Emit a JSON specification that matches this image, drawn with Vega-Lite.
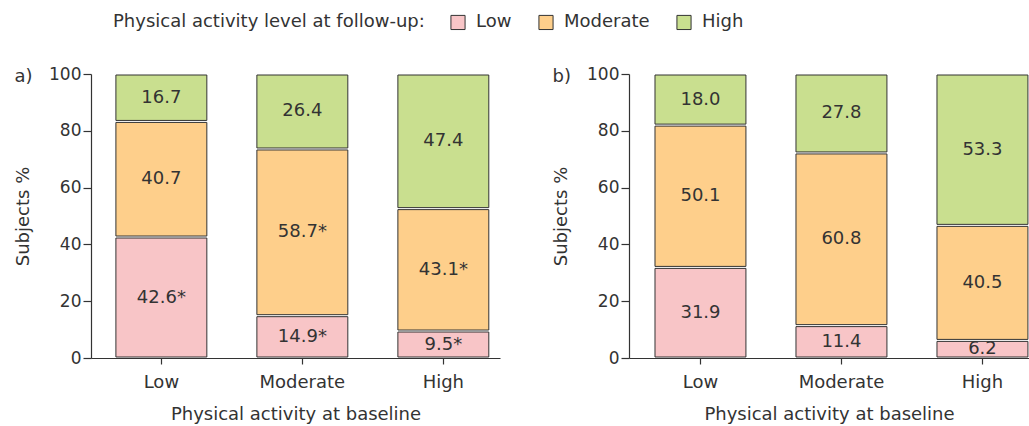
{
  "$schema": "https://vega.github.io/schema/vega-lite/v6.json",
  "padding": {"left": 14, "top": 13, "right": 0, "bottom": 4},
  "background": "white",
  "config": {
    "view": {"stroke": null},
    "font": "DejaVu Sans",
    "axis": {
      "domainColor": "#333", "tickColor": "#333", "labelColor": "#333", "titleColor": "#333",
      "labelFontSize": 17, "titleFontSize": 18, "titleFontWeight": "normal", "grid": false,
      "domainWidth": 1.2, "tickWidth": 1.2
    },
    "title": {"fontSize": 18, "fontWeight": "normal", "color": "#333"},
    "legend": {
      "orient": "none", "legendX": 22, "legendY": -61, "direction": "horizontal",
      "titleOrient": "left", "titleFontSize": 18, "titleFontWeight": "normal", "titleColor": "#333",
      "titleLimit": 600, "labelLimit": 300,
      "labelFontSize": 18, "labelColor": "#333", "symbolType": "square", "symbolSize": 200,
      "symbolStrokeColor": "#333", "symbolStrokeWidth": 1, "columnPadding": 24, "labelOffset": 9,
      "titlePadding": 24, "symbolOpacity": 1
    }
  },
  "datasets": {
    "a": [
      {"baseline": "Low", "followup": "Low", "order": 1, "pct": 42.6, "label": "42.6*"},
      {"baseline": "Low", "followup": "Moderate", "order": 2, "pct": 40.7, "label": "40.7"},
      {"baseline": "Low", "followup": "High", "order": 3, "pct": 16.7, "label": "16.7"},
      {"baseline": "Moderate", "followup": "Low", "order": 1, "pct": 14.9, "label": "14.9*"},
      {"baseline": "Moderate", "followup": "Moderate", "order": 2, "pct": 58.7, "label": "58.7*"},
      {"baseline": "Moderate", "followup": "High", "order": 3, "pct": 26.4, "label": "26.4"},
      {"baseline": "High", "followup": "Low", "order": 1, "pct": 9.5, "label": "9.5*"},
      {"baseline": "High", "followup": "Moderate", "order": 2, "pct": 43.1, "label": "43.1*"},
      {"baseline": "High", "followup": "High", "order": 3, "pct": 47.4, "label": "47.4"}
    ],
    "b": [
      {"baseline": "Low", "followup": "Low", "order": 1, "pct": 31.9, "label": "31.9"},
      {"baseline": "Low", "followup": "Moderate", "order": 2, "pct": 50.1, "label": "50.1"},
      {"baseline": "Low", "followup": "High", "order": 3, "pct": 18.0, "label": "18.0"},
      {"baseline": "Moderate", "followup": "Low", "order": 1, "pct": 11.4, "label": "11.4"},
      {"baseline": "Moderate", "followup": "Moderate", "order": 2, "pct": 60.8, "label": "60.8"},
      {"baseline": "Moderate", "followup": "High", "order": 3, "pct": 27.8, "label": "27.8"},
      {"baseline": "High", "followup": "Low", "order": 1, "pct": 6.2, "label": "6.2"},
      {"baseline": "High", "followup": "Moderate", "order": 2, "pct": 40.5, "label": "40.5"},
      {"baseline": "High", "followup": "High", "order": 3, "pct": 53.3, "label": "53.3"}
    ]
  },
  "spacing": 52,
  "hconcat": [
    {
      "width": 409, "height": 284,
      "title": {"text": "a)", "anchor": "start", "frame": "bounds", "orient": "top", "dy": 25, "dx": 0},
      "data": {"name": "a"},
      "transform": [
        {"stack": "pct", "groupby": ["baseline"], "sort": [{"field": "order"}], "as": ["y0", "y1"]},
        {"calculate": "(datum.y0 + datum.y1) / 2", "as": "ymid"}
      ],
      "encoding": {
        "x": {"field": "baseline", "type": "nominal", "sort": ["Low", "Moderate", "High"],
          "scale": {"paddingInner": 0.355, "paddingOuter": 0.128, "align": 0.69},
          "axis": {"title": "Physical activity at baseline", "labelAngle": 0, "tickSize": 6, "labelPadding": 9, "titlePadding": 14, "labelFontSize": 18}}
      },
      "layer": [
        {
          "mark": {"type": "bar", "stroke": "#333", "strokeWidth": 1, "yOffset": 1, "y2Offset": -1},
          "encoding": {
            "y": {"field": "y1", "type": "quantitative", "scale": {"domain": [0, 100]},
              "axis": {"title": "Subjects %", "values": [0, 20, 40, 60, 80, 100], "tickSize": 8, "labelPadding": 2, "titlePadding": 16}},
            "y2": {"field": "y0"},
            "color": {"field": "followup", "type": "nominal",
              "scale": {"domain": ["Low", "Moderate", "High"], "range": ["#f8c5c7", "#fecf8b", "#c9df8f"]},
              "legend": {"title": "Physical activity level at follow-up:"}}
          }
        },
        {
          "mark": {"type": "text", "fontSize": 18, "color": "#333"},
          "encoding": {
            "y": {"field": "ymid", "type": "quantitative"},
            "text": {"field": "label"}
          }
        }
      ]
    },
    {
      "width": 400, "height": 284,
      "title": {"text": "b)", "anchor": "start", "frame": "bounds", "orient": "top", "dy": 25, "dx": 0},
      "data": {"name": "b"},
      "transform": [
        {"stack": "pct", "groupby": ["baseline"], "sort": [{"field": "order"}], "as": ["y0", "y1"]},
        {"calculate": "(datum.y0 + datum.y1) / 2", "as": "ymid"}
      ],
      "encoding": {
        "x": {"field": "baseline", "type": "nominal", "sort": ["Low", "Moderate", "High"],
          "scale": {"paddingInner": 0.355, "paddingOuter": 0.096, "align": 0.96},
          "axis": {"title": "Physical activity at baseline", "labelAngle": 0, "tickSize": 6, "labelPadding": 9, "titlePadding": 14, "labelFontSize": 18}}
      },
      "layer": [
        {
          "mark": {"type": "bar", "stroke": "#333", "strokeWidth": 1, "yOffset": 1, "y2Offset": -1},
          "encoding": {
            "y": {"field": "y1", "type": "quantitative", "scale": {"domain": [0, 100]},
              "axis": {"title": "Subjects %", "values": [0, 20, 40, 60, 80, 100], "tickSize": 8, "labelPadding": 2, "titlePadding": 16}},
            "y2": {"field": "y0"},
            "color": {"field": "followup", "type": "nominal",
              "scale": {"domain": ["Low", "Moderate", "High"], "range": ["#f8c5c7", "#fecf8b", "#c9df8f"]},
              "legend": {"title": "Physical activity level at follow-up:"}}
          }
        },
        {
          "mark": {"type": "text", "fontSize": 18, "color": "#333"},
          "encoding": {
            "y": {"field": "ymid", "type": "quantitative"},
            "text": {"field": "label"}
          }
        }
      ]
    }
  ]
}
